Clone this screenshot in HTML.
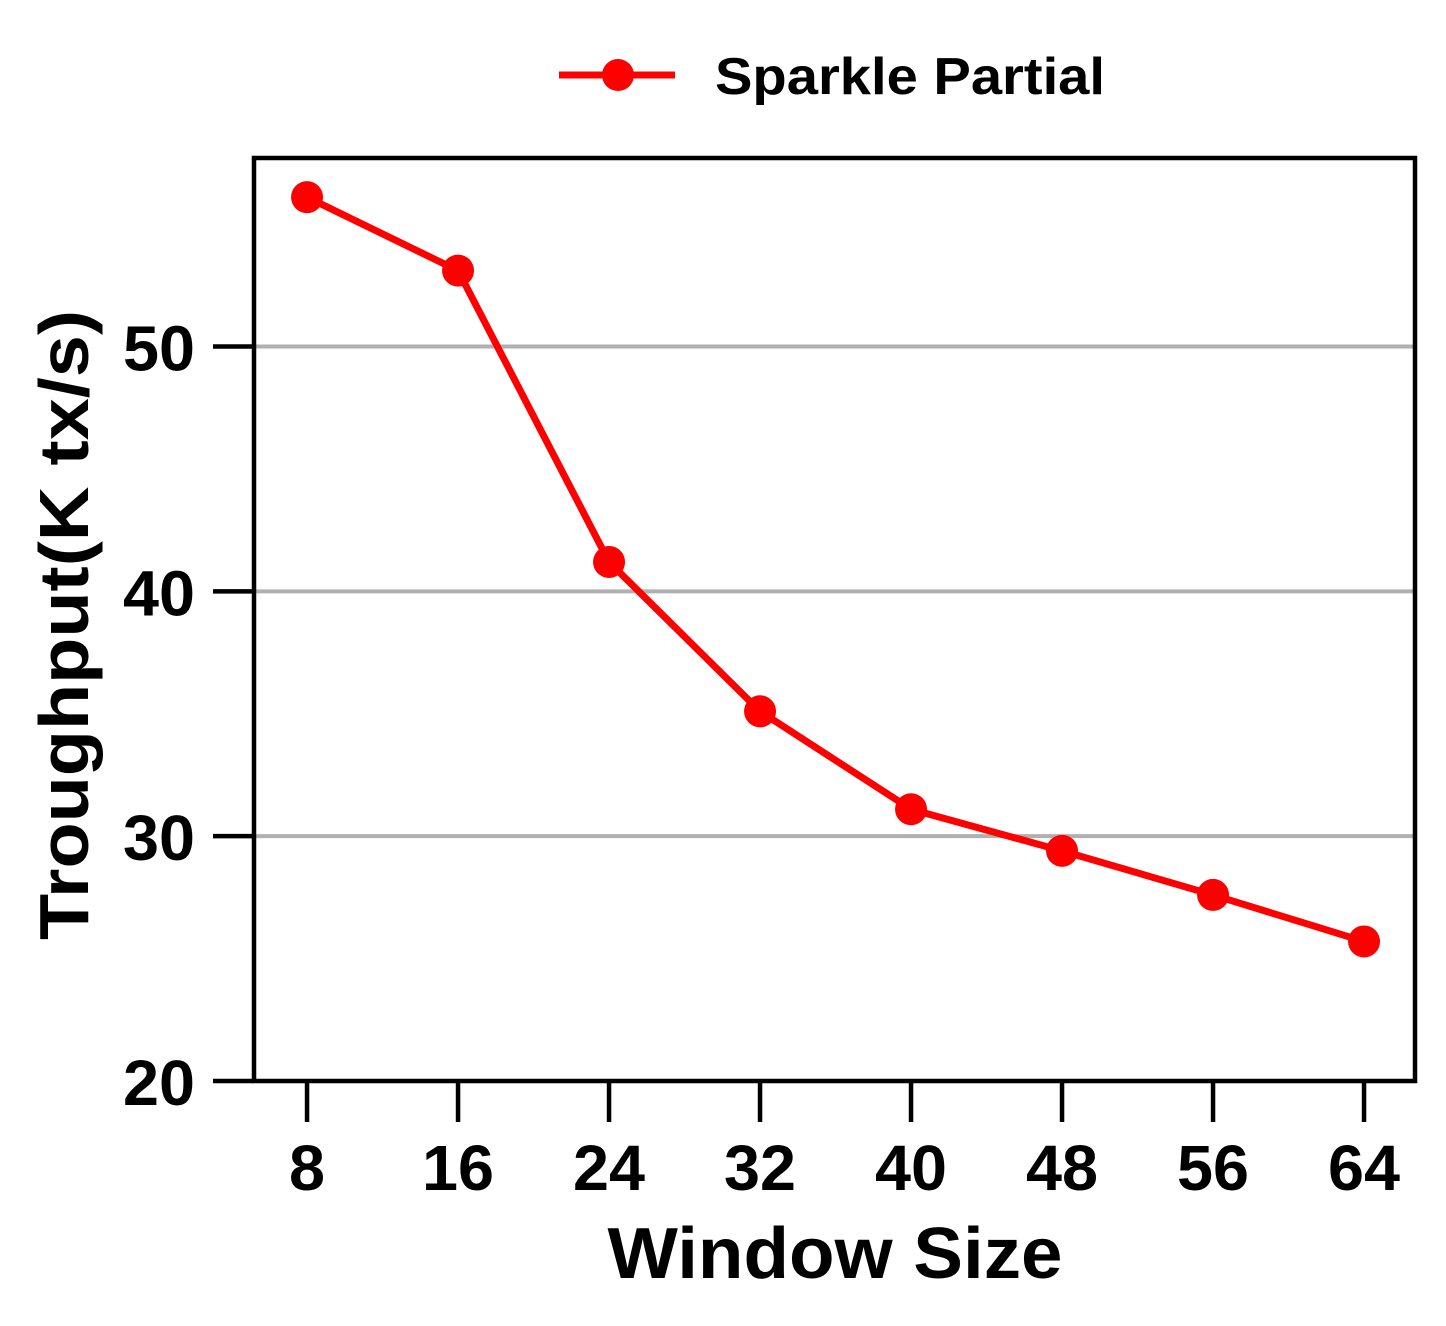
<!DOCTYPE html>
<html><head><meta charset="utf-8"><style>
html,body{margin:0;padding:0;background:#fff;}
svg{display:block;font-family:"Liberation Sans",sans-serif;font-weight:bold;}
</style></head><body>
<svg id="chart" width="1446" height="1326" viewBox="0 0 1446 1326">
<g id="grid"></g>
<g id="axes"></g>
<g id="series"></g>
<g>
<line x1="559" y1="75" x2="675" y2="75" stroke="#ff0000" stroke-width="7"/>
<circle cx="618" cy="75" r="16" fill="#ff0000"/>
<text x="715" y="94" font-size="52" textLength="390" lengthAdjust="spacingAndGlyphs">Sparkle Partial</text>
</g>
<text x="835" y="1278" font-size="72" text-anchor="middle" textLength="455" lengthAdjust="spacingAndGlyphs">Window Size</text>
<text transform="translate(88,625) rotate(-90)" font-size="70" text-anchor="middle" textLength="630" lengthAdjust="spacingAndGlyphs">Troughput(K tx/s)</text>
</svg>
<script>
const categories = [8, 16, 24, 32, 40, 48, 56, 64];
const throughput = [56.1, 53.1, 41.2, 35.1, 31.1, 29.4, 27.6, 25.7];
const yTicks = [20, 30, 40, 50];
const gridTicks = [30, 40, 50];
const NS = "http://www.w3.org/2000/svg";
const L = 254, R = 1415, T = 158, B = 1081;
const xMin = 5.19, xMax = 66.7, yMin = 20, yMax = 57.7;
function xs(v){ return L + (v - xMin) / (xMax - xMin) * (R - L); }
function ys(v){ return B - (v - yMin) / (yMax - yMin) * (B - T); }
function mk(tag, attrs, parent){ const e = document.createElementNS(NS, tag); for (const k in attrs) e.setAttribute(k, attrs[k]); parent.appendChild(e); return e; }
const grid = document.getElementById('grid');
const axes = document.getElementById('axes');
const series = document.getElementById('series');
gridTicks.forEach(v => {
  const g = mk('line', {x1: L, x2: R, y1: ys(v), y2: ys(v), stroke: '#b0b0b0', 'stroke-width': 4}, grid);
  
  
});
const frame = mk('rect', {x: L, y: T, width: R - L, height: B - T, fill: 'none', stroke: '#000', 'stroke-width': 4.5}, axes);


yTicks.forEach(v => {
  const t = mk('line', {x1: L - 41, x2: L, y1: ys(v), y2: ys(v), stroke: '#000', 'stroke-width': 4.5}, axes);
  
  
  const lb = mk('text', {x: 195, y: ys(v) + 24, 'font-size': 64, 'text-anchor': 'end', textLength: 72, lengthAdjust: 'spacingAndGlyphs'}, axes);
  lb.textContent = v;
  
  
});
categories.forEach(c => {
  const t = mk('line', {x1: xs(c), x2: xs(c), y1: B, y2: B + 41, stroke: '#000', 'stroke-width': 4.5}, axes);
  
  
  const lb = mk('text', {x: xs(c), y: 1190, 'font-size': 64, 'text-anchor': 'middle', textLength: String(c).length * 36, lengthAdjust: 'spacingAndGlyphs'}, axes);
  lb.textContent = c;
  
  
});
const pts = categories.map((c, i) => xs(c) + ',' + ys(throughput[i])).join(' ');
const line = mk('polyline', {points: pts, fill: 'none', stroke: '#ff0000', 'stroke-width': 7, 'stroke-linejoin': 'round'}, series);


categories.forEach((c, i) => {
  const p = mk('circle', {cx: xs(c), cy: ys(throughput[i]), r: 16, fill: '#ff0000'}, series);
  
  
});
</script>
</body></html>
